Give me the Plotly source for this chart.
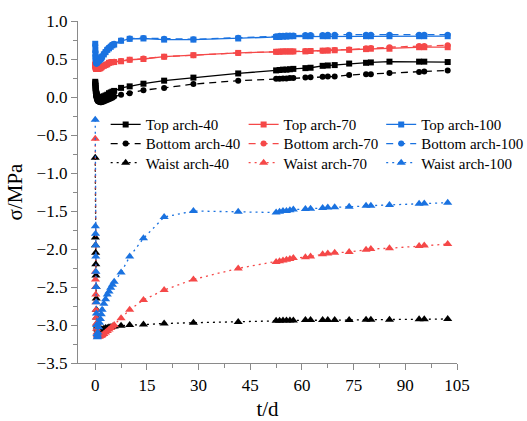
import plotly.graph_objects as go

# Measurement times (days)
t = [0, 0.04, 0.08, 0.12, 0.16, 0.2, 0.25, 0.3, 0.35, 0.4, 0.5, 0.6, 0.7, 0.8,
     1.0, 1.25, 1.5, 1.75, 2.0, 2.5, 3.0, 3.5, 4.0, 4.5, 5.0, 5.5, 7.5, 10, 14,
     20, 28.5, 41.5, 52.5, 53.5, 54.5, 55.5, 56.5, 57.5, 61, 62.5, 66, 67.5,
     69.5, 73.7, 78.6, 80, 85.4, 94, 95.5, 102.3]

# Stress (MPa)
top_40 = [0.2, 0.18, 0.15, 0.12, 0.1, 0.08, 0.06, 0.05, 0.04, 0.03, 0.02, 0.01,
          0.0, -0.01, -0.02, -0.02, -0.01, 0.0, 0.0, 0.01, 0.02, 0.03, 0.05, 0.06,
          0.07, 0.08, 0.12, 0.14, 0.175, 0.215, 0.255, 0.31, 0.35, 0.355, 0.36,
          0.36, 0.365, 0.37, 0.38, 0.385, 0.41, 0.415, 0.42, 0.44, 0.45, 0.455,
          0.465, 0.465, 0.465, 0.46]
top_70 = [0.42, 0.41, 0.4, 0.39, 0.385, 0.38, 0.375, 0.37, 0.37, 0.37, 0.37, 0.37,
          0.37, 0.37, 0.375, 0.375, 0.38, 0.39, 0.4, 0.41, 0.42, 0.43, 0.45, 0.455,
          0.46, 0.46, 0.47, 0.49, 0.5, 0.53, 0.55, 0.58, 0.595, 0.595, 0.6, 0.6,
          0.6, 0.6, 0.6, 0.605, 0.61, 0.61, 0.615, 0.62, 0.63, 0.635, 0.635,
          0.655, 0.655, 0.655]
top_100 = [0.7, 0.62, 0.56, 0.52, 0.49, 0.47, 0.46, 0.45, 0.45, 0.45, 0.45, 0.45,
           0.46, 0.46, 0.47, 0.48, 0.5, 0.51, 0.53, 0.56, 0.59, 0.62, 0.64, 0.66,
           0.68, 0.69, 0.74, 0.765, 0.77, 0.755, 0.755, 0.77, 0.79, 0.79, 0.795,
           0.795, 0.8, 0.8, 0.8, 0.8, 0.8, 0.8, 0.8, 0.8, 0.8, 0.8, 0.8, 0.8, 0.8,
           0.8]
bottom_40 = [0.18, 0.16, 0.13, 0.1, 0.07, 0.05, 0.03, 0.01, 0.0, -0.01, -0.03,
             -0.04, -0.05, -0.055, -0.06, -0.065, -0.07, -0.07, -0.065, -0.06,
             -0.05, -0.04, -0.03, -0.02, -0.01, 0.005, 0.03, 0.05, 0.09, 0.12,
             0.17, 0.215, 0.24, 0.24, 0.245, 0.245, 0.25, 0.25, 0.255, 0.26,
             0.265, 0.27, 0.27, 0.29, 0.3, 0.3, 0.315, 0.33, 0.335, 0.35]
bottom_70 = [0.45, 0.43, 0.41, 0.4, 0.39, 0.385, 0.38, 0.38, 0.375, 0.375, 0.375,
             0.375, 0.375, 0.38, 0.38, 0.385, 0.39, 0.395, 0.4, 0.41, 0.42, 0.435,
             0.45, 0.455, 0.46, 0.465, 0.475, 0.49, 0.505, 0.53, 0.55, 0.58, 0.595,
             0.6, 0.6, 0.6, 0.6, 0.6, 0.605, 0.605, 0.61, 0.615, 0.62, 0.625, 0.64,
             0.645, 0.655, 0.67, 0.67, 0.68]
bottom_100 = [0.68, 0.6, 0.55, 0.51, 0.48, 0.46, 0.45, 0.44, 0.44, 0.44, 0.44,
              0.45, 0.45, 0.46, 0.47, 0.49, 0.5, 0.52, 0.54, 0.57, 0.6, 0.63,
              0.65, 0.67, 0.69, 0.7, 0.745, 0.77, 0.775, 0.765, 0.76, 0.78, 0.8,
              0.805, 0.805, 0.81, 0.81, 0.81, 0.815, 0.815, 0.815, 0.82, 0.82,
              0.82, 0.82, 0.82, 0.82, 0.82, 0.82, 0.82]
waist_40 = [-0.8, -1.85, -1.95, -2.05, -2.2, -2.35, -2.5, -2.65, -2.8, -2.9,
            -2.98, -3.02, -3.05, -3.06, -3.07, -3.07, -3.07, -3.06, -3.06, -3.05,
            -3.04, -3.04, -3.03, -3.03, -3.02, -3.02, -3.01, -3.0, -2.995, -2.98,
            -2.97, -2.96, -2.945, -2.945, -2.94, -2.94, -2.94, -2.94, -2.935,
            -2.935, -2.935, -2.935, -2.935, -2.935, -2.93, -2.93, -2.93, -2.925,
            -2.925, -2.92]
waist_70 = [-0.55, -2.3, -2.4, -2.5, -2.6, -2.7, -2.8, -2.9, -2.98, -3.05, -3.1,
            -3.13, -3.15, -3.15, -3.15, -3.15, -3.14, -3.14, -3.13, -3.12, -3.1,
            -3.08, -3.06, -3.04, -3.02, -3.0, -2.91, -2.8, -2.67, -2.54, -2.4,
            -2.255, -2.17, -2.16, -2.15, -2.14, -2.13, -2.12, -2.11, -2.1, -2.07,
            -2.06, -2.05, -2.04, -2.01, -2.0, -1.99, -1.96, -1.955, -1.935]
waist_100 = [-0.3, -1.7, -1.8, -1.95, -2.1, -2.3, -2.5, -2.7, -2.85, -3.0, -3.12,
             -3.16, -3.14, -3.1, -3.03, -2.97, -2.92, -2.86, -2.8, -2.72, -2.66,
             -2.6, -2.56, -2.51, -2.47, -2.43, -2.31, -2.1, -1.86, -1.58, -1.5,
             -1.51, -1.52, -1.51, -1.5, -1.5, -1.49, -1.48, -1.475, -1.47, -1.46,
             -1.455, -1.45, -1.445, -1.43, -1.43, -1.42, -1.405, -1.4, -1.39]

BLACK = "#000000"
RED = "#F54848"
BLUE = "#1A72E0"
FONT = "'Liberation Serif', 'Times New Roman', 'DejaVu Serif', serif"
DASH = "7px,5px"
DOT = "2px,4px"

# name, values, colour, dash, symbol, marker size, legend column, legend row
series = [
    ("Top arch-40", top_40, BLACK, "solid", "square", 6, 0, 0),
    ("Top arch-70", top_70, RED, "solid", "square", 6, 1, 0),
    ("Top arch-100", top_100, BLUE, "solid", "square", 6, 2, 0),
    ("Bottom arch-40", bottom_40, BLACK, DASH, "circle", 6, 0, 1),
    ("Bottom arch-70", bottom_70, RED, DASH, "circle", 6, 1, 1),
    ("Bottom arch-100", bottom_100, BLUE, DASH, "circle", 6, 2, 1),
    ("Waist arch-40", waist_40, BLACK, DOT, "triangle-up", 8, 0, 2),
    ("Waist arch-70", waist_70, RED, DOT, "triangle-up", 8, 1, 2),
    ("Waist arch-100", waist_100, BLUE, DOT, "triangle-up", 8, 2, 2),
]

# Legend grid placement (paper coordinates)
col_x = [0.073, 0.437, 0.800]
row_y = [0.697, 0.641, 0.585]

fig = go.Figure()
layout_legends = {}
for i, (name, vals, color, dash, symbol, size, col, row) in enumerate(series):
    lg = "legend" if i == 0 else f"legend{i + 1}"
    fig.add_trace(go.Scatter(
        x=t, y=vals, name=name, mode="lines+markers",
        line=dict(color=color, width=1.3, dash=dash),
        marker=dict(color=color, symbol=symbol, size=size),
        legend=lg,
    ))
    layout_legends[lg] = dict(
        x=col_x[col], y=row_y[row], xanchor="left", yanchor="middle",
        font=dict(family=FONT, size=15, color="#000"),
        bgcolor="rgba(0,0,0,0)", borderwidth=0,
    )

axis_common = dict(
    showline=True, linecolor="#8a8a8a", linewidth=1.3,
    ticks="outside", ticklen=6, tickwidth=1.2, tickcolor="#8a8a8a",
    showgrid=False, zeroline=False, mirror=False,
    tickfont=dict(family=FONT, size=17, color="#000"),
)

fig.update_xaxes(
    range=[-5, 105], tick0=0, dtick=15,
    minor=dict(ticks="outside", ticklen=4, tickcolor="#8a8a8a", dtick=7.5, tick0=0),
    title=dict(text="t/d", font=dict(family=FONT, size=21, color="#000"), standoff=12),
    **axis_common,
)
fig.update_yaxes(
    range=[-3.5, 1.0], tick0=0, dtick=0.5, tickformat=".1f",
    minor=dict(ticks="outside", ticklen=4, tickcolor="#8a8a8a", dtick=0.25, tick0=0),
    title=dict(text="σ/MPa", font=dict(family=FONT, size=21, color="#000"), standoff=8),
    **axis_common,
)

fig.update_layout(
    width=527, height=421,
    margin=dict(l=78, r=70, t=21, b=58, autoexpand=False),
    paper_bgcolor="white", plot_bgcolor="white",
    font=dict(family=FONT),
    showlegend=True,
    **layout_legends,
)

fig.write_html("out.html")
